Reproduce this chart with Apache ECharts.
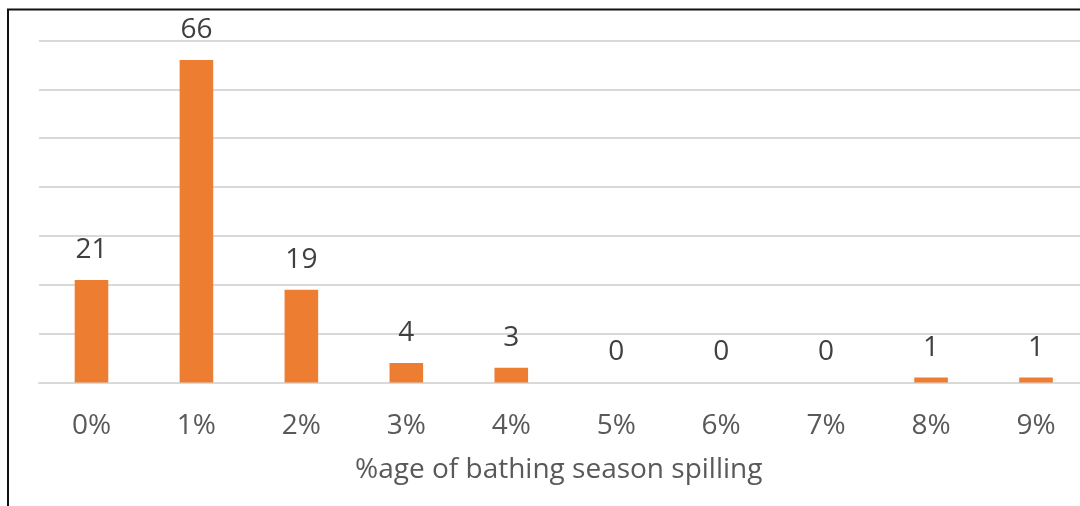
<!DOCTYPE html>
<html>
<head>
<meta charset="utf-8">
<script src="https://cdn.jsdelivr.net/npm/echarts@6/dist/echarts.min.js"></script>
<style>
  html, body { margin: 0; padding: 0; background: #fff; overflow: hidden; }
  #chart { width: 1090px; height: 506px; }
</style>
</head>
<body>
<div id="chart"></div>
<script>
// Share of bathing season spent spilling, bucketed by whole percent
const categories = ['0%', '1%', '2%', '3%', '4%', '5%', '6%', '7%', '8%', '9%'];
const counts = [21, 66, 19, 4, 3, 0, 0, 0, 1, 1];
const axisTitle = '%age of bathing season spilling';

const FONT = 'Open Sans';
const chart = echarts.init(document.getElementById('chart'), null, { renderer: 'canvas' });

// The plot runs a little past the right edge of the window, so the
// canvas is slightly wider than the page and the overflow is hidden.
chart.setOption({
  animation: false,
  backgroundColor: '#ffffff',
  grid: { left: 39, top: 40.5, right: 1.5, bottom: 123.5 },
  xAxis: {
    type: 'category',
    data: categories,
    name: axisTitle,
    nameLocation: 'middle',
    nameGap: 74,
    nameTextStyle: { fontFamily: FONT, fontSize: 28, color: '#595959', padding: [0, 10, 0, 0] },
    axisLine: { show: true, lineStyle: { color: '#d9d9d9', width: 2 } },
    axisTick: { show: false },
    axisLabel: { fontFamily: FONT, fontSize: 28, color: '#595959', margin: 30 }
  },
  yAxis: {
    type: 'value',
    min: 0,
    max: 70,
    interval: 10,
    axisLabel: { show: false },
    axisLine: { show: false },
    axisTick: { show: false },
    splitLine: { lineStyle: { color: '#d9d9d9', width: 2 } }
  },
  series: [{
    type: 'bar',
    data: counts,
    barWidth: '32%',
    itemStyle: { color: '#ED7D31' },
    label: {
      show: true,
      position: 'top',
      distance: 16,
      fontFamily: FONT,
      fontSize: 28,
      color: '#404040'
    }
  }],
  graphic: [{
    type: 'polyline',
    shape: { points: [[8, 506], [8, 9.5], [1090, 9.5]] },
    style: { stroke: '#111111', lineWidth: 2, fill: null },
    silent: true
  }]
});
</script>
</body>
</html>
